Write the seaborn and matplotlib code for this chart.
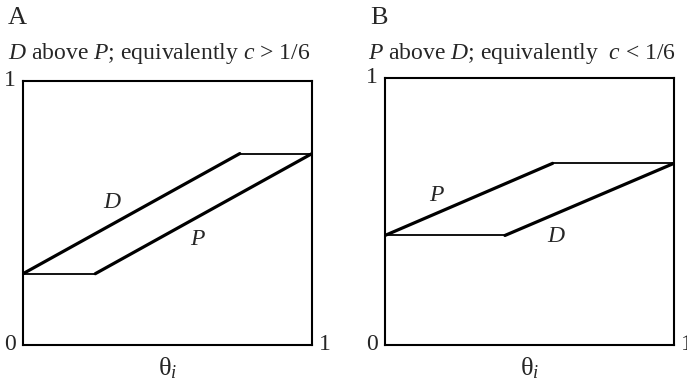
import matplotlib
matplotlib.use("Agg")
import matplotlib.pyplot as plt
import seaborn as sns

# Piecewise-linear best-response curves (theta_i on x, value on y)
panel_a_d_x = [0.0, 0.75, 1.0]
panel_a_d_y = [0.27, 0.725, 0.725]
panel_a_p_x = [0.0, 0.25, 1.0]
panel_a_p_y = [0.27, 0.27, 0.725]

panel_b_p_x = [0.0, 0.58, 1.0]
panel_b_p_y = [0.41, 0.68, 0.68]
panel_b_d_x = [0.0, 0.415, 1.0]
panel_b_d_y = [0.41, 0.41, 0.68]

panel_letters = ["A", "B"]
panel_titles = [r"$D$ above $P$; equivalently $c$ > 1/6",
                r"$P$ above $D$; equivalently  $c$ < 1/6"]

sns.set_theme(style="white")
plt.rcParams["font.family"] = ["Liberation Serif", "DejaVu Serif"]
plt.rcParams["mathtext.fontset"] = "custom"
plt.rcParams["mathtext.rm"] = "Liberation Serif"
plt.rcParams["mathtext.it"] = "Liberation Serif:italic"

FS = 17
fig = plt.figure(figsize=(6.87, 3.90), dpi=100)
ax_a = fig.add_axes([0.0335, 0.1154, 0.4207, 0.677])
ax_b = fig.add_axes([0.5604, 0.1154, 0.4207, 0.685])


def draw_curve(ax, xs, ys):
    for i in range(len(xs) - 1):
        flat = ys[i] == ys[i + 1]
        sns.lineplot(x=xs[i:i + 2], y=ys[i:i + 2], ax=ax, color="black",
                     lw=1.3 if flat else 2.3, sort=False, estimator=None)


def style_axes(ax):
    ax.set_xlim(0, 1)
    ax.set_ylim(0, 1)
    ax.set_xticks([])
    ax.set_yticks([])
    ax.set_xlabel("")
    ax.set_ylabel("")
    for s in ax.spines.values():
        s.set_color("black")
        s.set_linewidth(1.5)
    ax.text(-0.025, 0.0, "0", transform=ax.transAxes, ha="right", va="center", fontsize=FS)
    ax.text(-0.025, 1.0, "1", transform=ax.transAxes, ha="right", va="center", fontsize=FS)
    ax.text(1.025, 0.0, "1", transform=ax.transAxes, ha="left", va="center", fontsize=FS)
    ax.text(0.5, -0.088, r"θ$_i$", transform=ax.transAxes, ha="center", va="center",
            fontsize=FS + 2)


draw_curve(ax_a, panel_a_d_x, panel_a_d_y)
draw_curve(ax_a, panel_a_p_x, panel_a_p_y)
style_axes(ax_a)
ax_a.text(0.31, 0.54, r"$D$", ha="center", va="center", fontsize=FS)
ax_a.text(0.605, 0.40, r"$P$", ha="center", va="center", fontsize=FS)

draw_curve(ax_b, panel_b_p_x, panel_b_p_y)
draw_curve(ax_b, panel_b_d_x, panel_b_d_y)
style_axes(ax_b)
ax_b.text(0.18, 0.56, r"$P$", ha="center", va="center", fontsize=FS)
ax_b.text(0.595, 0.405, r"$D$", ha="center", va="center", fontsize=FS)

# Panel letters and subtitles
fig.text(8 / 687, 1 - 18 / 390, panel_letters[0], ha="left", va="center", fontsize=FS + 2)
fig.text(370 / 687, 1 - 18 / 390, panel_letters[1], ha="left", va="center", fontsize=FS + 2)
fig.text(8 / 687, 1 - 53 / 390, panel_titles[0], ha="left", va="center", fontsize=FS)
fig.text(368 / 687, 1 - 53 / 390, panel_titles[1], ha="left", va="center", fontsize=FS)

fig.savefig("out.png", dpi=100, facecolor="white")
